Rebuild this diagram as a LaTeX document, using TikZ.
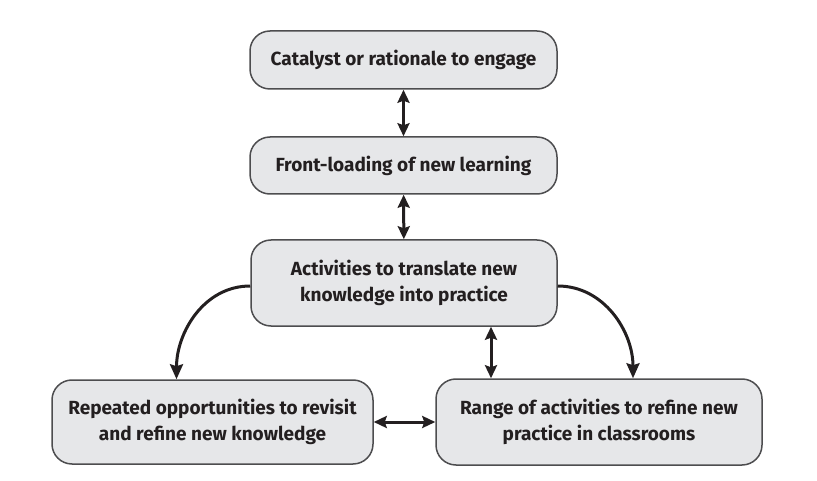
\documentclass[tikz,border=0pt]{standalone}
\usepackage{fontspec}
\setmainfont{Fira Sans}
\usetikzlibrary{arrows.meta}

\definecolor{boxfill}{HTML}{E6E7E9}
\definecolor{boxline}{HTML}{4D4D4F}
\definecolor{inkcol}{HTML}{231F20}

\begin{document}
\begin{tikzpicture}[x = 1pt, y = -1pt]
\tikzstyle{BoxStyle} = [draw = boxline, fill = boxfill, line width = 1.5pt, rounded corners = 20pt, align = center, text = inkcol, font = \bfseries\fontsize{19}{26}\selectfont]
\tikzstyle{LinkStyle} = [{Stealth[length = 13pt, width = 12pt, inset = 2pt]}-{Stealth[length = 13pt, width = 12pt, inset = 2pt]}, line width = 3pt, draw = inkcol]
\tikzstyle{CurveStyle} = [-{Stealth[length = 15pt, width = 13pt, inset = 2pt]}, line width = 3pt, draw = inkcol]
\useasboundingbox (0, 0) rectangle (817, 481);
\node[BoxStyle, minimum width = 307pt, minimum height = 58pt] (catalyst) at (403.5, 60) {Catalyst or rationale to engage};
\node[BoxStyle, minimum width = 307pt, minimum height = 57pt] (frontload) at (403.5, 165.5) {Front-loading of new learning};
\node[BoxStyle, minimum width = 306pt, minimum height = 86pt] (activities) at (404, 283) {Activities to translate new\\knowledge into practice};
\node[BoxStyle, minimum width = 321pt, minimum height = 84pt] (repeated) at (212.5, 422) {Repeated opportunities to revisit\\and refine new knowledge};
\node[BoxStyle, minimum width = 326pt, minimum height = 86pt] (range) at (599, 422) {Range of activities to refine new\\practice in classrooms};
\draw[LinkStyle] (catalyst) -- (frontload);
\draw[LinkStyle] (frontload) -- (activities);
\draw[LinkStyle] ([xshift = 87pt]activities.south) -- ([xshift = 87pt]activities.south |- range.north);
\draw[LinkStyle] (repeated) -- (range);
\draw[CurveStyle] ([yshift = -3pt]activities.west) to[out = 180, in = 90] ([xshift = -36pt]repeated.north);
\draw[CurveStyle] ([yshift = -3pt]activities.east) to[out = 0, in = 90] ([xshift = 34pt]range.north);
\end{tikzpicture}
\end{document}
